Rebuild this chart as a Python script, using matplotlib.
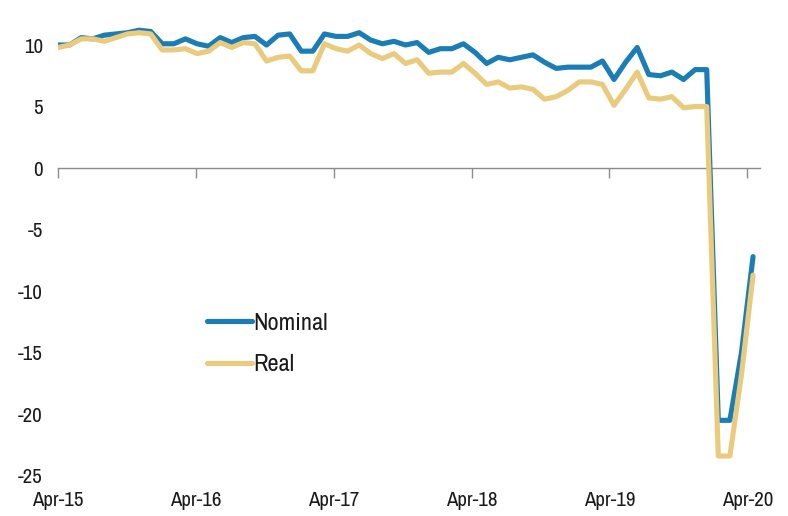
import matplotlib
matplotlib.use("Agg")
import matplotlib.pyplot as plt

plt.rcParams['font.family'] = ['Archivo Narrow', 'Liberation Sans', 'DejaVu Sans']

# Monthly, Apr-15 .. Apr-20 (index 0..60)
nominal = [10.0, 10.0, 10.6, 10.5, 10.8, 10.9, 11.0, 11.2, 11.1,
           10.1, 10.1, 10.5, 10.1, 9.9, 10.6, 10.2, 10.6, 10.7, 10.0, 10.8, 10.9,
           9.5, 9.5, 10.9, 10.7, 10.7, 11.0, 10.4, 10.1, 10.3, 10.0, 10.2, 9.4,
           9.7, 9.7, 10.1, 9.4, 8.5, 9.0, 8.8, 9.0, 9.2, 8.6, 8.1, 8.2,
           8.2, 8.2, 8.7, 7.2, 8.6, 9.8, 7.6, 7.5, 7.8, 7.2, 8.0, 8.0,
           -20.5, -20.5, -15.0, -7.2]
real = [9.8, 10.0, 10.5, 10.5, 10.3, 10.6, 10.9, 11.0, 10.9,
        9.6, 9.6, 9.7, 9.3, 9.5, 10.2, 9.8, 10.2, 10.1, 8.7, 9.0, 9.1,
        7.9, 7.9, 10.1, 9.7, 9.5, 10.0, 9.3, 8.9, 9.3, 8.5, 8.8, 7.7,
        7.8, 7.8, 8.5, 7.7, 6.8, 7.0, 6.5, 6.6, 6.4, 5.6, 5.8, 6.3,
        7.0, 7.0, 6.8, 5.1, 6.4, 7.8, 5.7, 5.6, 5.8, 4.9, 5.0, 5.0,
        -23.4, -23.4, -16.8, -8.7]
tick_labels = ['Apr-15', 'Apr-16', 'Apr-17', 'Apr-18', 'Apr-19', 'Apr-20']
y_ticks = [-25, -20, -15, -10, -5, 0, 5, 10]

blue = '#1a7db5'
gold = '#eacb7e'
grey = '#8c8c8c'
txt = '#1a1a1a'

fig = plt.figure(figsize=(7.88, 5.16), dpi=100)
ax = fig.add_axes([58/788, 1 - 488/516, 702/788, (488 - 20.4)/516])

x = list(range(len(nominal)))
ax.plot(x, nominal, color=blue, lw=3.7, solid_joinstyle='round', solid_capstyle='round', label='Nominal')
ax.plot(x, real, color=gold, lw=3.7, solid_joinstyle='round', solid_capstyle='round', label='Real')

ax.set_xlim(0, 60.6)
ax.set_ylim(-26, 12)

for s in ['top', 'right', 'left']:
    ax.spines[s].set_visible(False)
ax.spines['bottom'].set_position(('data', 0))
ax.spines['bottom'].set_color(grey)
ax.spines['bottom'].set_linewidth(1.0)
ax.spines['bottom'].set_zorder(0.5)

xt = [11.9 * i for i in range(len(tick_labels))]
ax.set_xticks(xt)
ax.tick_params(axis='x', direction='out', length=7, width=1.0, color=grey, labelbottom=False)

sec = ax.secondary_xaxis('bottom')
sec.set_xticks(xt)
sec.set_xticklabels(tick_labels)
sec.spines['bottom'].set_visible(False)
sec.tick_params(axis='x', length=0, pad=2, labelsize=15, labelcolor=txt)

ax.set_yticks(y_ticks)
ax.set_yticklabels([str(v) for v in y_ticks])
ax.tick_params(axis='y', length=0, pad=11, labelsize=15, labelcolor=txt)

leg = ax.legend(loc='upper left', bbox_to_anchor=(0.198, 0.396), frameon=False,
                fontsize=17.5, handlelength=1.85, handletextpad=0.08, labelspacing=0.85,
                borderaxespad=0)
for t in leg.get_texts():
    t.set_color(txt)

fig.savefig('out.png', dpi=100)
